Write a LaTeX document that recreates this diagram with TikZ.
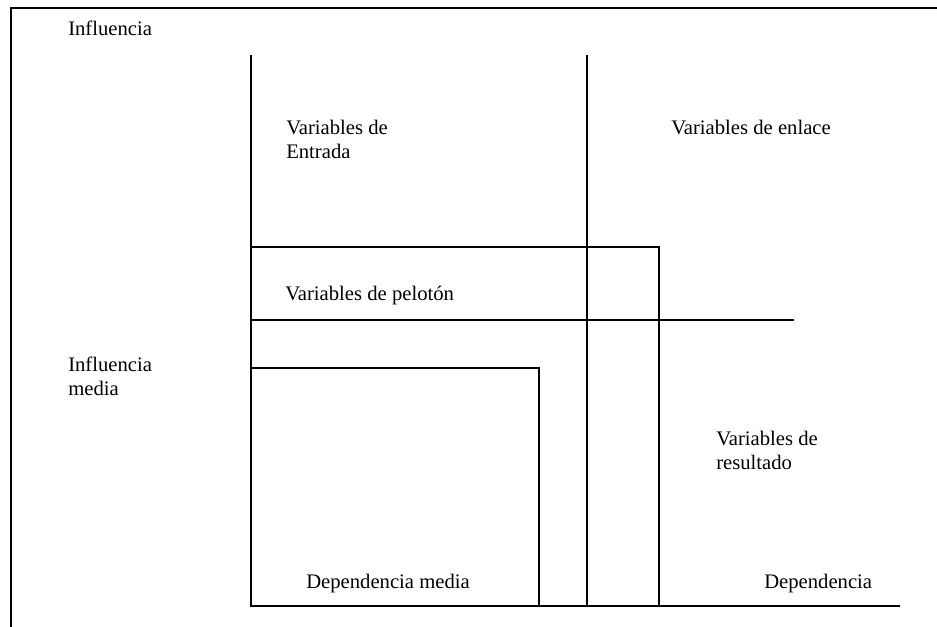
\documentclass[tikz,border=0pt]{standalone}
\usepackage{fontspec}
\setmainfont{Liberation Serif}
\begin{document}
\begin{tikzpicture}[x=0.75pt,y=-0.75pt,
  ln/.style={line width=1.6pt,line cap=rect},
  lbl/.style={inner sep=0pt,anchor=base west,align=left,
    font=\fontsize{15.5}{18}\selectfont}]
\useasboundingbox (0,0) rectangle (937,627);
% frame
\draw[ln] (11,640) -- (11,8) -- (950,8);
% axes
\draw[ln] (251,56) -- (251,606) -- (899,606);
\draw[ln] (587,56) -- (587,606);
% peloton band
\draw[ln] (251,247) -- (659,247) -- (659,606);
\draw[ln] (251,320) -- (793,320);
% dependencia media box
\draw[ln] (251,368) -- (539,368) -- (539,606);
% labels
\node[lbl] (inf) at (68,36) {Influencia};
\node[lbl] (ent) at (286,159) {Variables de\\Entrada};
\node[lbl] (enl) at (671,135) {Variables de enlace};
\node[lbl] (pel) at (285,300) {Variables de pelotón};
\node[lbl] (infm) at (68,395) {Influencia\\media};
\node[lbl] (res) at (716,469) {Variables de\\resultado};
\node[lbl] (depm) at (306,588) {Dependencia media};
\node[lbl] (dep) at (764,588) {Dependencia};
\end{tikzpicture}
\end{document}
